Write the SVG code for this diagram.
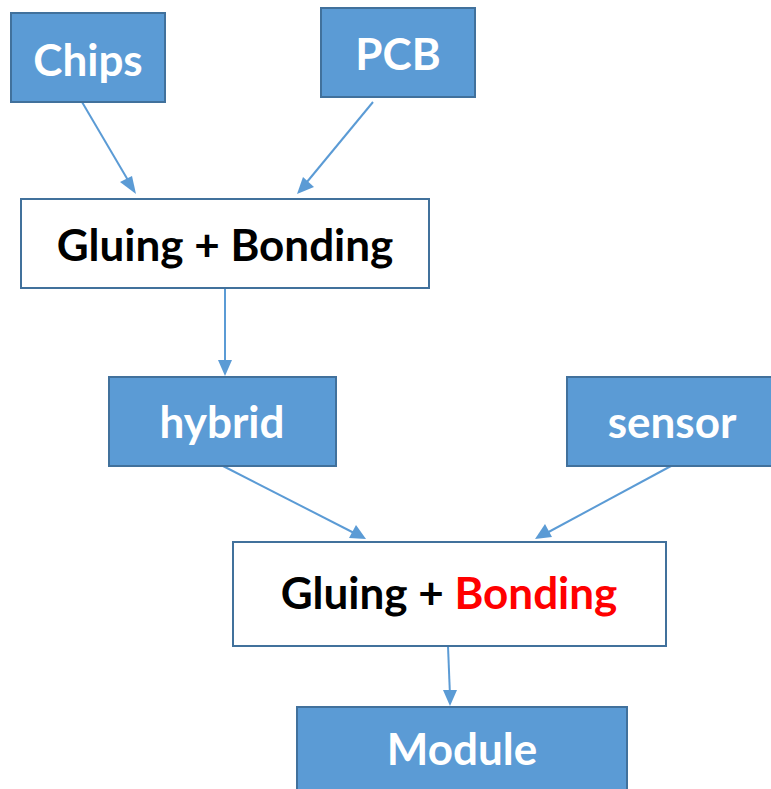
<svg xmlns="http://www.w3.org/2000/svg" width="771" height="789" viewBox="0 0 771 789">
  <style>
    .src { fill: #5B9BD5; stroke: #41719C; stroke-width: 2; }
    .step { fill: #FFFFFF; stroke: #41719C; stroke-width: 2; }
    .lbl { font-family: Lato, "Open Sans", sans-serif; font-weight: bold; font-size: 44px; text-anchor: middle; }
    .w { fill: #FFFFFF; }
    .k { fill: #000000; }
    .r { fill: #FF0000; }
    .conn line { stroke: #5B9BD5; stroke-width: 2; }
  </style>
  <rect width="771" height="789" fill="#FFFFFF"/>

  <!-- connector shafts, arrowheads drawn separately below -->
  <g class="conn" id="connectors">
    <line x1="82" y1="102" x2="132" y2="187"/>
    <line x1="373" y1="102" x2="302" y2="188"/>
    <line x1="225" y1="288" x2="225" y2="366"/>
    <line x1="223" y1="466" x2="358" y2="535"/>
    <line x1="671" y1="466" x2="543" y2="535"/>
    <line x1="448" y1="646" x2="450" y2="696"/>
  </g>
  <g id="arrowheads" fill="#5B9BD5">
    <polygon points="136,194 120,182 132,176"/>
    <polygon points="297,194 303,177 314,187"/>
    <polygon points="225,376 218,360 232,360"/>
    <polygon points="366,539 349,538 356,525"/>
    <polygon points="535,539 545,524 552,537"/>
    <polygon points="450,706 443,690 457,690"/>
  </g>

  <g id="chips">
    <rect class="src" x="11" y="13" width="154" height="89"/>
    <text class="lbl w" x="88" y="76">Chips</text>
  </g>
  <g id="pcb">
    <rect class="src" x="321" y="8" width="154" height="89"/>
    <text class="lbl w" x="398" y="70">PCB</text>
  </g>
  <g id="gluing-bonding-1">
    <rect class="step" x="21" y="199" width="408" height="89"/>
    <text class="lbl k" x="225" y="261">Gluing + Bonding</text>
  </g>
  <g id="hybrid">
    <rect class="src" x="109" y="377" width="227" height="89"/>
    <text class="lbl w" x="222" y="438">hybrid</text>
  </g>
  <g id="sensor">
    <rect class="src" x="567" y="377" width="214" height="89"/>
    <text class="lbl w" x="672" y="438">sensor</text>
  </g>
  <g id="gluing-bonding-2">
    <rect class="step" x="233" y="542" width="433" height="104"/>
    <text class="lbl" x="449" y="609"><tspan class="k">Gluing + </tspan><tspan class="r">Bonding</tspan></text>
  </g>
  <g id="module">
    <rect class="src" x="297" y="707" width="330" height="100"/>
    <text class="lbl w" x="462" y="765">Module</text>
  </g>
</svg>
